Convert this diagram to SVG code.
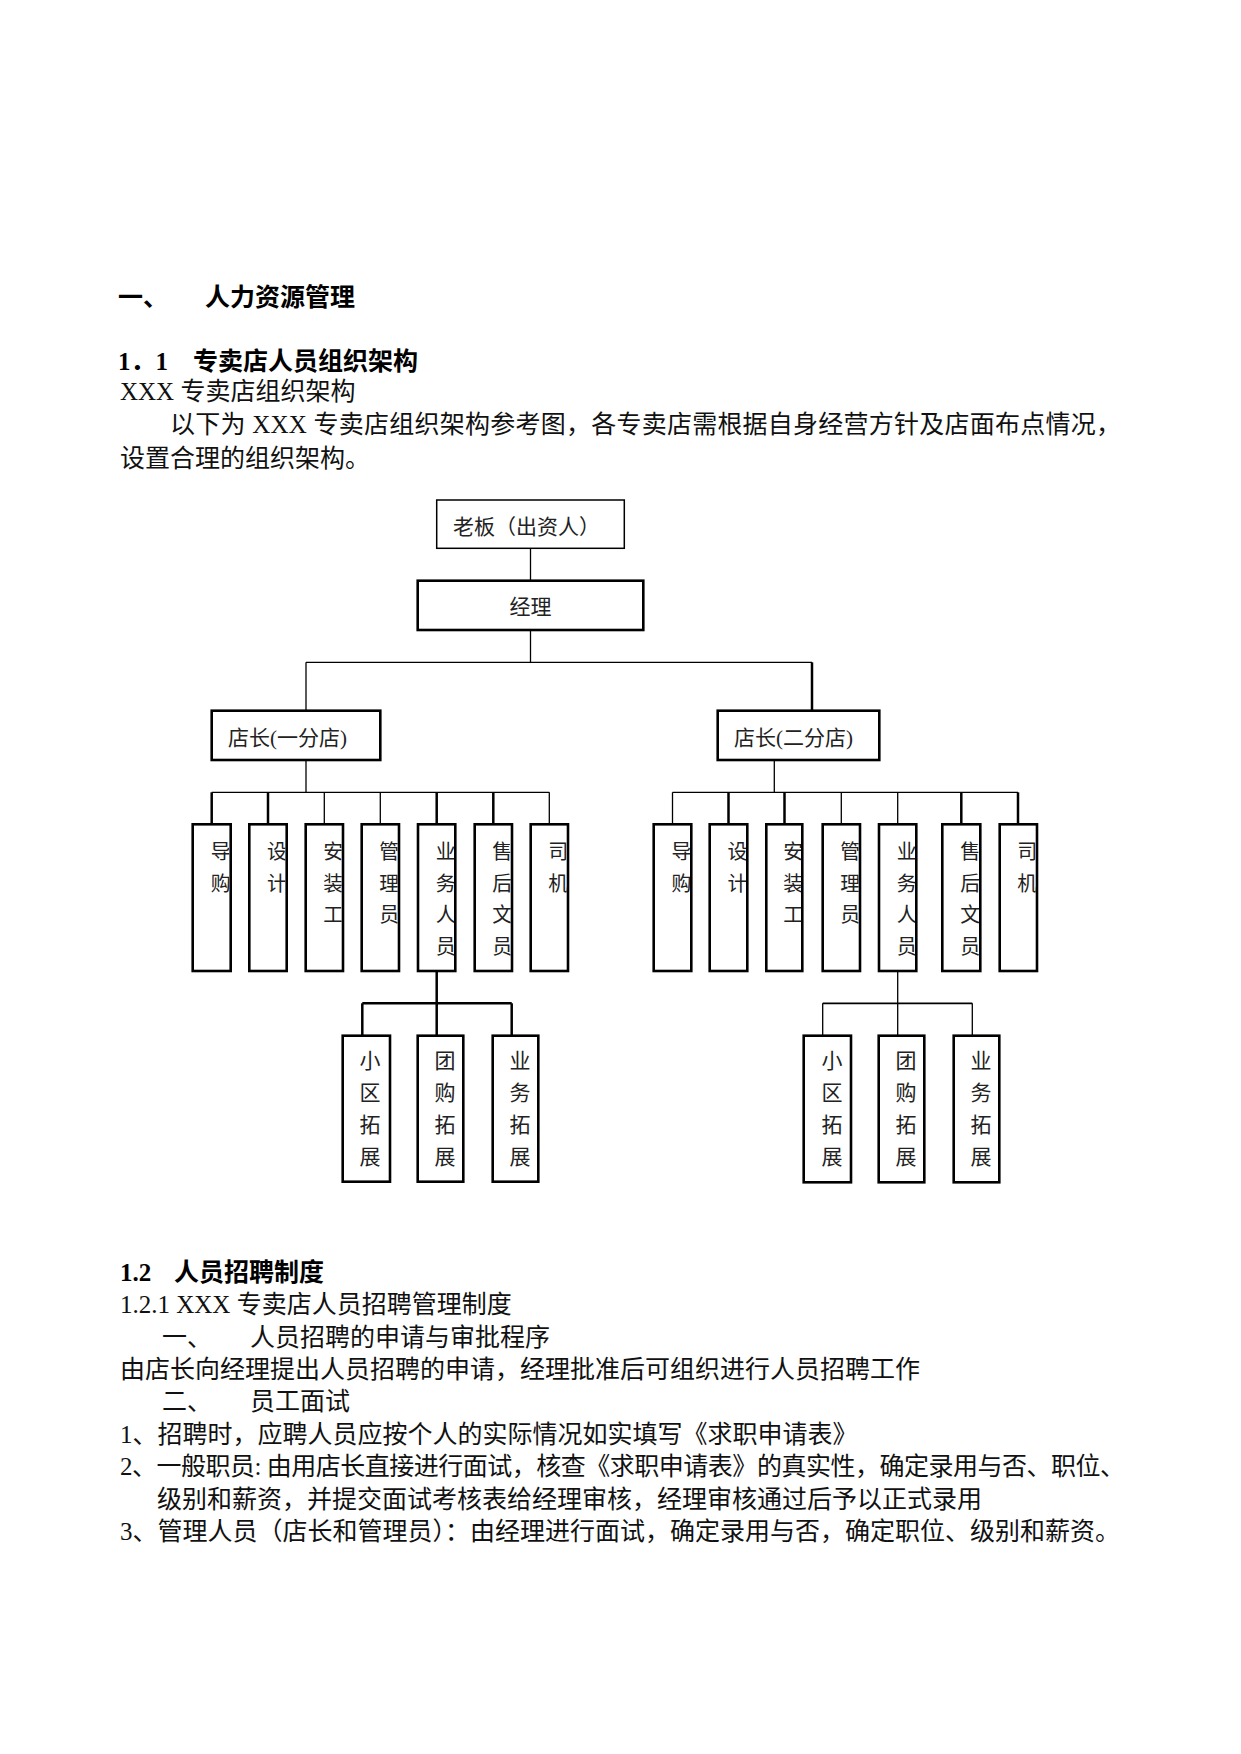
<svg xmlns="http://www.w3.org/2000/svg" width="1241" height="1754" viewBox="0 0 1241 1754">
<style>
  .body { font-family: "Liberation Serif", "Noto Sans CJK SC", serif; font-size: 25px; fill: #111; }
  .bold { font-weight: bold; fill: #000; }
  .box { fill: #fff; stroke: #000; stroke-width: 2.6; }
  .boxthin { fill: #fff; stroke: #000; stroke-width: 1.5; }
  .lbl { font-family: "Liberation Serif", "Noto Sans CJK SC", serif; font-size: 21px; fill: #222; }
  .vlbl { font-family: "Liberation Serif", "Noto Sans CJK SC", serif; font-size: 20px; fill: #222; }
  .thin { stroke: #000; stroke-width: 1.3; fill: none; }
  .thick { stroke: #000; stroke-width: 2.5; fill: none; }
  .mid { stroke: #000; stroke-width: 1.8; fill: none; }
</style>
<defs>
  <clipPath id="vclip">
    <rect x="194" y="826" width="35.4" height="144"/>
    <rect x="250.6" y="826" width="34.8" height="144"/>
    <rect x="307" y="826" width="34.7" height="144"/>
    <rect x="363" y="826" width="34.7" height="144"/>
    <rect x="419.3" y="826" width="34.7" height="144"/>
    <rect x="476" y="826" width="34.7" height="144"/>
    <rect x="532" y="826" width="34.7" height="144"/>
    <rect x="655" y="826" width="35" height="144"/>
    <rect x="711" y="826" width="35" height="144"/>
    <rect x="767.6" y="826" width="33.4" height="144"/>
    <rect x="824" y="826" width="34.7" height="144"/>
    <rect x="880.3" y="826" width="34.7" height="144"/>
    <rect x="943.6" y="826" width="35.4" height="144"/>
    <rect x="1001" y="826" width="34.7" height="144"/>
  </clipPath>
</defs>
<rect x="0" y="0" width="1241" height="1754" fill="#fff"/>

<g id="text-top">
  <text class="body bold" x="118" y="306">一、</text>
  <text class="body bold" x="205" y="306">人力资源管理</text>
  <text class="body bold" x="118" y="370">1．1</text>
  <text class="body bold" x="193" y="370">专卖店人员组织架构</text>
  <text class="body" x="120" y="400">XXX 专卖店组织架构</text>
  <text class="body" x="170" y="433" textLength="951" lengthAdjust="spacing">以下为 XXX 专卖店组织架构参考图，各专卖店需根据自身经营方针及店面布点情况，</text>
  <text class="body" x="120" y="466.5">设置合理的组织架构。</text>
</g>

<g id="connectors">
  <line class="thin" x1="530.5" y1="548.3" x2="530.5" y2="580.7"/>
  <line class="thin" x1="530.5" y1="630" x2="530.5" y2="662.3"/>
  <line class="thin" x1="306" y1="662.3" x2="812" y2="662.3"/>
  <line class="thin" x1="306" y1="662.3" x2="306" y2="710.7"/>
  <line class="thick" x1="812" y1="662.3" x2="812" y2="710.7"/>
  <line class="thin" x1="306" y1="760" x2="306" y2="792.3"/>
  <line class="thin" x1="211.7" y1="792.3" x2="549.3" y2="792.3"/>
  <line class="thick" x1="211.7" y1="792.3" x2="211.7" y2="824.3"/>
  <line class="thick" x1="268" y1="792.3" x2="268" y2="824.3"/>
  <line class="thin" x1="324.3" y1="792.3" x2="324.3" y2="824.3"/>
  <line class="thin" x1="380.3" y1="792.3" x2="380.3" y2="824.3"/>
  <line class="thick" x1="436.7" y1="792.3" x2="436.7" y2="824.3"/>
  <line class="thick" x1="493.3" y1="792.3" x2="493.3" y2="824.3"/>
  <line class="thin" x1="549.3" y1="792.3" x2="549.3" y2="824.3"/>
  <line class="thick" x1="436.7" y1="971" x2="436.7" y2="1035.7"/>
  <line class="thick" x1="362.3" y1="1003.3" x2="511.7" y2="1003.3"/>
  <line class="thick" x1="362.3" y1="1003.3" x2="362.3" y2="1035.7"/>
  <line class="thick" x1="511.7" y1="1003.3" x2="511.7" y2="1035.7"/>
  <line class="thin" x1="774.3" y1="760" x2="774.3" y2="792.3"/>
  <line class="thin" x1="672.5" y1="792.3" x2="1018" y2="792.3"/>
  <line class="thin" x1="672.5" y1="792.3" x2="672.5" y2="824.3"/>
  <line class="thick" x1="728.5" y1="792.3" x2="728.5" y2="824.3"/>
  <line class="thick" x1="784.5" y1="792.3" x2="784.5" y2="824.3"/>
  <line class="thin" x1="841.3" y1="792.3" x2="841.3" y2="824.3"/>
  <line class="thin" x1="897.7" y1="792.3" x2="897.7" y2="824.3"/>
  <line class="thick" x1="961.3" y1="792.3" x2="961.3" y2="824.3"/>
  <line class="thick" x1="1018" y1="792.3" x2="1018" y2="824.3"/>
  <line class="thin" x1="897.7" y1="971" x2="897.7" y2="1035.7"/>
  <line class="mid" x1="822.7" y1="1003.3" x2="972.3" y2="1003.3"/>
  <line class="thin" x1="822.7" y1="1003.3" x2="822.7" y2="1035.7"/>
  <line class="thin" x1="972.3" y1="1003.3" x2="972.3" y2="1035.7"/>
</g>

<g id="n-boss">
  <rect class="boxthin" x="436.7" y="500" width="187.6" height="48.3"/>
  <text class="lbl" x="453" y="534">老板（出资人）</text>
</g>
<g id="n-manager">
  <rect class="box" x="417.7" y="580.7" width="225.6" height="49.3"/>
  <text class="lbl" x="530.5" y="613.5" text-anchor="middle">经理</text>
</g>
<g id="n-store1">
  <rect class="box" x="211.7" y="710.7" width="168.6" height="49.3"/>
  <text class="lbl" x="228" y="745">店长(一分店)</text>
</g>
<g id="n-store2">
  <rect class="box" x="717.7" y="710.7" width="161.6" height="49.3"/>
  <text class="lbl" x="734" y="745">店长(二分店)</text>
</g>

<g id="n-l1"><rect class="box" x="192.7" y="824.3" width="38" height="146.7"/>
  <text class="vlbl" clip-path="url(#vclip)"><tspan x="210.7" y="859">导</tspan><tspan x="210.7" y="890.5">购</tspan></text></g>
<g id="n-l2"><rect class="box" x="249.3" y="824.3" width="37.4" height="146.7"/>
  <text class="vlbl" clip-path="url(#vclip)"><tspan x="267" y="859">设</tspan><tspan x="267" y="890.5">计</tspan></text></g>
<g id="n-l3"><rect class="box" x="305.7" y="824.3" width="37.3" height="146.7"/>
  <text class="vlbl" clip-path="url(#vclip)"><tspan x="323.3" y="859">安</tspan><tspan x="323.3" y="890.5">装</tspan><tspan x="323.3" y="922">工</tspan></text></g>
<g id="n-l4"><rect class="box" x="361.7" y="824.3" width="37.3" height="146.7"/>
  <text class="vlbl" clip-path="url(#vclip)"><tspan x="379.3" y="859">管</tspan><tspan x="379.3" y="890.5">理</tspan><tspan x="379.3" y="922">员</tspan></text></g>
<g id="n-l5"><rect class="box" x="418" y="824.3" width="37.3" height="146.7"/>
  <text class="vlbl" clip-path="url(#vclip)"><tspan x="435.7" y="859">业</tspan><tspan x="435.7" y="890.5">务</tspan><tspan x="435.7" y="922">人</tspan><tspan x="435.7" y="953.5">员</tspan></text></g>
<g id="n-l6"><rect class="box" x="474.7" y="824.3" width="37.3" height="146.7"/>
  <text class="vlbl" clip-path="url(#vclip)"><tspan x="492.3" y="859">售</tspan><tspan x="492.3" y="890.5">后</tspan><tspan x="492.3" y="922">文</tspan><tspan x="492.3" y="953.5">员</tspan></text></g>
<g id="n-l7"><rect class="box" x="530.7" y="824.3" width="37.3" height="146.7"/>
  <text class="vlbl" clip-path="url(#vclip)"><tspan x="548.3" y="859">司</tspan><tspan x="548.3" y="890.5">机</tspan></text></g>

<g id="n-r1"><rect class="box" x="653.7" y="824.3" width="37.6" height="146.7"/>
  <text class="vlbl" clip-path="url(#vclip)"><tspan x="671.5" y="859">导</tspan><tspan x="671.5" y="890.5">购</tspan></text></g>
<g id="n-r2"><rect class="box" x="709.7" y="824.3" width="37.6" height="146.7"/>
  <text class="vlbl" clip-path="url(#vclip)"><tspan x="727.5" y="859">设</tspan><tspan x="727.5" y="890.5">计</tspan></text></g>
<g id="n-r3"><rect class="box" x="766.3" y="824.3" width="36" height="146.7"/>
  <text class="vlbl" clip-path="url(#vclip)"><tspan x="783.3" y="859">安</tspan><tspan x="783.3" y="890.5">装</tspan><tspan x="783.3" y="922">工</tspan></text></g>
<g id="n-r4"><rect class="box" x="822.7" y="824.3" width="37.3" height="146.7"/>
  <text class="vlbl" clip-path="url(#vclip)"><tspan x="840.3" y="859">管</tspan><tspan x="840.3" y="890.5">理</tspan><tspan x="840.3" y="922">员</tspan></text></g>
<g id="n-r5"><rect class="box" x="879" y="824.3" width="37.3" height="146.7"/>
  <text class="vlbl" clip-path="url(#vclip)"><tspan x="896.7" y="859">业</tspan><tspan x="896.7" y="890.5">务</tspan><tspan x="896.7" y="922">人</tspan><tspan x="896.7" y="953.5">员</tspan></text></g>
<g id="n-r6"><rect class="box" x="942.3" y="824.3" width="38" height="146.7"/>
  <text class="vlbl" clip-path="url(#vclip)"><tspan x="960.3" y="859">售</tspan><tspan x="960.3" y="890.5">后</tspan><tspan x="960.3" y="922">文</tspan><tspan x="960.3" y="953.5">员</tspan></text></g>
<g id="n-r7"><rect class="box" x="999.7" y="824.3" width="37.3" height="146.7"/>
  <text class="vlbl" clip-path="url(#vclip)"><tspan x="1017.3" y="859">司</tspan><tspan x="1017.3" y="890.5">机</tspan></text></g>

<g id="n-la"><rect class="box" x="342.7" y="1035.7" width="47.3" height="146"/>
  <text class="lbl"><tspan x="359.5" y="1068">小</tspan><tspan x="359.5" y="1100">区</tspan><tspan x="359.5" y="1132">拓</tspan><tspan x="359.5" y="1164">展</tspan></text></g>
<g id="n-lb"><rect class="box" x="417.7" y="1035.7" width="45.6" height="146"/>
  <text class="lbl"><tspan x="434.5" y="1068">团</tspan><tspan x="434.5" y="1100">购</tspan><tspan x="434.5" y="1132">拓</tspan><tspan x="434.5" y="1164">展</tspan></text></g>
<g id="n-lc"><rect class="box" x="492.7" y="1035.7" width="45.6" height="146"/>
  <text class="lbl"><tspan x="509.5" y="1068">业</tspan><tspan x="509.5" y="1100">务</tspan><tspan x="509.5" y="1132">拓</tspan><tspan x="509.5" y="1164">展</tspan></text></g>

<g id="n-ra"><rect class="box" x="803.7" y="1035.7" width="47.3" height="146.6"/>
  <text class="lbl"><tspan x="821.5" y="1068">小</tspan><tspan x="821.5" y="1100">区</tspan><tspan x="821.5" y="1132">拓</tspan><tspan x="821.5" y="1164">展</tspan></text></g>
<g id="n-rb"><rect class="box" x="878.7" y="1035.7" width="45.6" height="146.6"/>
  <text class="lbl"><tspan x="895.5" y="1068">团</tspan><tspan x="895.5" y="1100">购</tspan><tspan x="895.5" y="1132">拓</tspan><tspan x="895.5" y="1164">展</tspan></text></g>
<g id="n-rc"><rect class="box" x="953.7" y="1035.7" width="45.6" height="146.6"/>
  <text class="lbl"><tspan x="970.5" y="1068">业</tspan><tspan x="970.5" y="1100">务</tspan><tspan x="970.5" y="1132">拓</tspan><tspan x="970.5" y="1164">展</tspan></text></g>

<g id="text-bottom">
  <text class="body bold" x="120" y="1281">1.2</text>
  <text class="body bold" x="174" y="1281">人员招聘制度</text>
  <text class="body" x="120" y="1313">1.2.1 XXX 专卖店人员招聘管理制度</text>
  <text class="body" x="162" y="1346">一、</text>
  <text class="body" x="250" y="1346">人员招聘的申请与审批程序</text>
  <text class="body" x="120" y="1378">由店长向经理提出人员招聘的申请，经理批准后可组织进行人员招聘工作</text>
  <text class="body" x="162" y="1410">二、</text>
  <text class="body" x="250" y="1410">员工面试</text>
  <text class="body" x="120" y="1443">1、招聘时，应聘人员应按个人的实际情况如实填写《求职申请表》</text>
  <text class="body" x="120" y="1475" textLength="1005" lengthAdjust="spacing">2、一般职员: 由用店长直接进行面试，核查《求职申请表》的真实性，确定录用与否、职位、</text>
  <text class="body" x="157" y="1508">级别和薪资，并提交面试考核表给经理审核，经理审核通过后予以正式录用</text>
  <text class="body" x="120" y="1540">3、管理人员（店长和管理员）：由经理进行面试，确定录用与否，确定职位、级别和薪资。</text>
</g>
</svg>
